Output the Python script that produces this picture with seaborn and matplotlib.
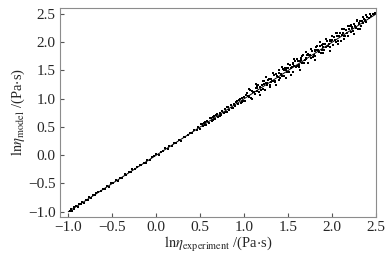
import matplotlib
matplotlib.use("Agg")
import matplotlib.pyplot as plt
import seaborn as sns
import pandas as pd

# --- data ---
ln_eta_experiment = [
    # -1.0 .. 0.5
    -0.98, -0.97, -0.96, -0.94, -0.93, -0.91, -0.89, -0.88, -0.86, -0.84,
    -0.82, -0.80, -0.78, -0.76, -0.74, -0.72, -0.70, -0.68, -0.66, -0.63,
    -0.61, -0.58, -0.56, -0.54, -0.51, -0.49, -0.46, -0.44, -0.41, -0.39,
    -0.36, -0.34, -0.31, -0.29, -0.27, -0.24, -0.22, -0.19, -0.17, -0.14,
    -0.12, -0.10, -0.07, -0.05, -0.02, 0.00, 0.03, 0.05, 0.08, 0.10,
    0.13, 0.15, 0.18, 0.20, 0.23, 0.26, 0.28, 0.31, 0.33, 0.36,
    0.38, 0.41, 0.43, 0.46, 0.48,
    # 0.5 .. 1.0
    0.50, 0.52, 0.53, 0.55, 0.57, 0.58, 0.60, 0.62, 0.63, 0.65,
    0.67, 0.68, 0.70, 0.72, 0.73, 0.75, 0.77, 0.78, 0.80, 0.82,
    0.83, 0.85, 0.86, 0.88, 0.90, 0.91, 0.93, 0.94, 0.96, 0.97,
    0.99, 0.54, 0.66, 0.79, 0.92,
    0.51, 0.56, 0.61, 0.64, 0.69, 0.74, 0.81, 0.87, 0.95, 0.98,
    # 1.0 .. 1.5
    1.00, 1.01, 1.03, 1.04, 1.05, 1.07, 1.08, 1.09, 1.11, 1.12,
    1.13, 1.14, 1.16, 1.17, 1.18, 1.20, 1.21, 1.22, 1.24, 1.25,
    1.26, 1.27, 1.29, 1.30, 1.31, 1.33, 1.34, 1.35, 1.36, 1.38,
    1.39, 1.40, 1.42, 1.43, 1.44, 1.45, 1.47, 1.48, 1.49, 1.50,
    # 1.5 .. 2.0
    1.51, 1.52, 1.53, 1.55, 1.56, 1.57, 1.58, 1.60, 1.61, 1.62,
    1.63, 1.65, 1.66, 1.67, 1.68, 1.70, 1.71, 1.72, 1.74, 1.75,
    1.76, 1.77, 1.79, 1.80, 1.81, 1.82, 1.84, 1.85, 1.86, 1.87,
    1.89, 1.90, 1.91, 1.92, 1.94, 1.95, 1.96, 1.97, 1.98, 1.99,
    # extra 1.0 .. 2.0
    1.02, 1.06, 1.10, 1.15, 1.19, 1.23, 1.28, 1.32, 1.37, 1.41,
    1.46, 1.54, 1.59, 1.64, 1.69, 1.73, 1.78, 1.83, 1.88, 1.93,
    1.15, 1.26, 1.35, 1.45, 1.55, 1.62, 1.70, 1.80, 1.88, 1.98,
    # 2.0 .. 2.5
    2.00, 2.01, 2.02, 2.03, 2.04, 2.05, 2.06, 2.07, 2.08, 2.09,
    2.10, 2.11, 2.12, 2.13, 2.14, 2.15, 2.16, 2.17, 2.18, 2.19,
    2.20, 2.21, 2.22, 2.23, 2.24, 2.25, 2.26, 2.27, 2.28, 2.29,
    2.30, 2.31, 2.32, 2.33, 2.34, 2.35, 2.36, 2.37, 2.38, 2.40,
    2.42, 2.44, 2.46, 2.48, 2.49,
    # outer band 1.0 .. 2.5
    1.05, 1.09, 1.13, 1.18, 1.21, 1.25, 1.29, 1.33, 1.36, 1.40,
    1.43, 1.47, 1.50, 1.53, 1.57, 1.60, 1.63, 1.66, 1.70, 1.73,
    1.76, 1.80, 1.83, 1.86, 1.90, 1.93, 1.97, 2.00, 2.04, 2.07,
    2.11, 2.14, 2.18, 2.21, 2.25, 2.28, 2.32, 2.35, 2.39, 2.43,
]
ln_eta_model = [
    -0.99, -0.95, -0.98, -0.92, -0.95, -0.90, -0.91, -0.86, -0.87, -0.82,
    -0.84, -0.79, -0.80, -0.74, -0.76, -0.70, -0.71, -0.67, -0.65, -0.64,
    -0.59, -0.60, -0.55, -0.56, -0.50, -0.50, -0.44, -0.46, -0.40, -0.41,
    -0.34, -0.35, -0.30, -0.30, -0.25, -0.25, -0.21, -0.18, -0.18, -0.13,
    -0.14, -0.08, -0.08, -0.04, -0.01, 0.02, 0.01, 0.06, 0.07, 0.12,
    0.11, 0.17, 0.16, 0.22, 0.21, 0.27, 0.26, 0.32, 0.32, 0.35,
    0.39, 0.39, 0.45, 0.44, 0.50,
    0.47, 0.55, 0.51, 0.58, 0.54, 0.61, 0.57, 0.65, 0.60, 0.68,
    0.64, 0.71, 0.68, 0.75, 0.70, 0.78, 0.74, 0.82, 0.77, 0.85,
    0.80, 0.88, 0.83, 0.90, 0.87, 0.95, 0.90, 0.98, 0.93, 1.01,
    0.96, 0.57, 0.70, 0.76, 0.96,
    0.55, 0.53, 0.66, 0.62, 0.73, 0.71, 0.86, 0.84, 1.00, 0.94,
    1.03, 0.96, 1.10, 1.04, 1.03, 1.16, 1.01, 1.13, 1.12, 1.08,
    1.19, 1.13, 1.24, 1.11, 1.20, 1.25, 1.18, 1.32, 1.16, 1.28,
    1.25, 1.33, 1.24, 1.30, 1.35, 1.31, 1.42, 1.31, 1.43, 1.39,
    1.33, 1.45, 1.44, 1.40, 1.53, 1.40, 1.50, 1.54, 1.47, 1.54,
    1.47, 1.60, 1.55, 1.48, 1.61, 1.57, 1.67, 1.57, 1.67, 1.56,
    1.66, 1.72, 1.64, 1.77, 1.63, 1.71, 1.77, 1.64, 1.78, 1.77,
    1.72, 1.85, 1.78, 1.85, 1.75, 1.91, 1.87, 1.82, 1.93, 1.80,
    1.91, 1.96, 1.86, 1.96, 2.02, 1.93, 1.97, 1.91, 2.03, 2.02,
    1.07, 1.04, 1.11, 1.22, 1.15, 1.26, 1.34, 1.31, 1.41, 1.36,
    1.54, 1.56, 1.56, 1.69, 1.69, 1.79, 1.74, 1.86, 1.95, 1.91,
    1.19, 1.27, 1.29, 1.50, 1.64, 1.59, 1.72, 1.86, 1.87, 2.02,
    2.04, 1.95, 2.10, 2.04, 2.01, 2.11, 2.16, 2.02, 2.11, 2.16,
    2.02, 2.13, 2.17, 2.11, 2.23, 2.11, 2.22, 2.17, 2.11, 2.23,
    2.28, 2.18, 2.27, 2.25, 2.19, 2.32, 2.29, 2.25, 2.37, 2.23,
    2.34, 2.32, 2.38, 2.29, 2.37, 2.34, 2.41, 2.39, 2.35, 2.44,
    2.42, 2.46, 2.49, 2.49, 2.52,
    1.17, 0.99, 1.26, 1.07, 1.32, 1.39, 1.20, 1.45, 1.24, 1.50,
    1.56, 1.37, 1.62, 1.42, 1.71, 1.71, 1.51, 1.76, 1.83, 1.64,
    1.88, 1.69, 1.94, 2.00, 1.80, 2.05, 1.85, 2.11, 2.17, 1.97,
    2.23, 2.05, 2.29, 2.31, 2.14, 2.40, 2.24, 2.45, 2.48, 2.50,
]
fit_x = [-1.0, 2.5]
fit_y = [-1.0, 2.5]
x_ticks = [-1.0, -0.5, 0.0, 0.5, 1.0, 1.5, 2.0, 2.5]
y_ticks = [-1.0, -0.5, 0.0, 0.5, 1.0, 1.5, 2.0, 2.5]

df = pd.DataFrame({"x": ln_eta_experiment, "y": ln_eta_model})
fit = pd.DataFrame({"x": fit_x, "y": fit_y})

sns.set_style("ticks")
plt.rcParams["font.family"] = ["Liberation Serif", "DejaVu Serif"]
plt.rcParams["mathtext.fontset"] = "stix"

fig = plt.figure(figsize=(3.89, 2.56), dpi=100)
ax = fig.add_axes([0.154, 0.1535, 0.813, 0.8155])

sns.lineplot(data=fit, x="x", y="y", ax=ax, color="black", linewidth=0.7)
sns.scatterplot(data=df, x="x", y="y", ax=ax, color="black", marker="s",
                s=3, linewidth=0)

ax.set_xlim(-1.095, 2.5)
ax.set_ylim(-1.088, 2.606)
ax.set_xticks(x_ticks)
ax.set_yticks(y_ticks)
ax.set_xticklabels([f"{v:.1f}".replace("-", "\u2212") for v in x_ticks])
ax.set_yticklabels([f"{v:.1f}".replace("-", "\u2212") for v in y_ticks])
ax.tick_params(direction="in", length=3, width=0.8, color="#555555",
               labelsize=11, pad=3)
for sp in ax.spines.values():
    sp.set_color("#8c8c8c")
    sp.set_linewidth(0.8)

ax.set_xlabel(r"$\mathrm{ln}\eta_{\mathrm{experiment}}$ /(Pa$\cdot$s)", fontsize=10.5, labelpad=1)
ax.set_ylabel(r"$\mathrm{ln}\eta_{\mathrm{model}}$ /(Pa$\cdot$s)", fontsize=10.5, labelpad=1)

fig.savefig("out.png", dpi=100)
